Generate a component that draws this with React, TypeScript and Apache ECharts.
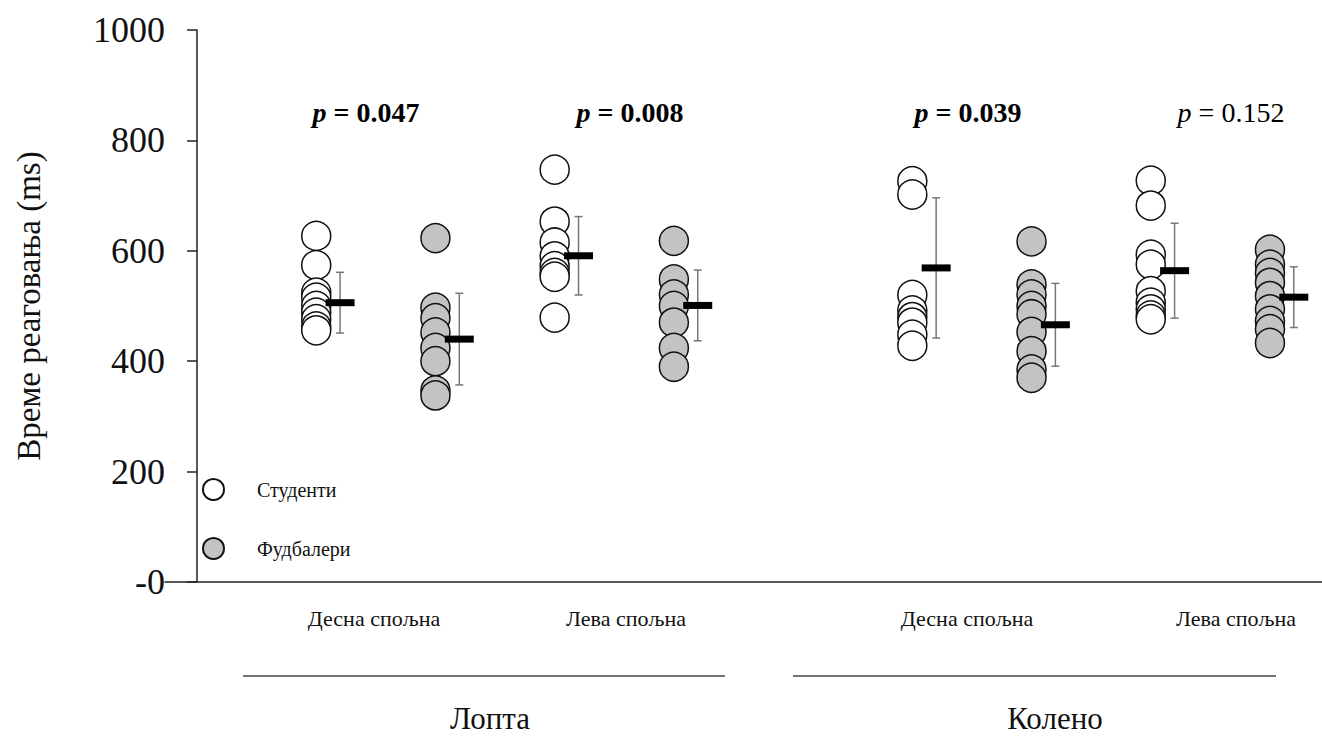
import React, { useEffect, useRef } from "react";
import * as echarts from "echarts";

// ---- data ----
const groupNames = ["Студенти", "Фудбалери"];
const conditionLabels = ["Десна спољна", "Лева спољна", "Десна спољна", "Лева спољна"];
const bodyParts = ["Лопта", "Колено"];
const pValues = ["0.047", "0.008", "0.039", "0.152"];
const pSignificant = [true, true, true, false];
const yTicks = [0, 200, 400, 600, 800, 1000];

// x slots: students / footballers for each condition
const studentSlots = [1, 3, 6, 8];
const footballerSlots = [2, 4, 7, 9];

const lDesnaStudenti = [627, 574, 524, 515, 500, 488, 476, 463, 456];
const lDesnaFudbaleri = [623, 497, 478, 452, 424, 400, 347, 338];
const lLevaStudenti = [747, 653, 615, 590, 572, 560, 553, 479];
const lLevaFudbaleri = [618, 548, 521, 500, 470, 424, 390];
const kDesnaStudenti = [726, 702, 520, 492, 480, 470, 448, 428];
const kDesnaFudbaleri = [617, 539, 521, 500, 485, 453, 418, 385, 370];
const kLevaStudenti = [727, 682, 593, 575, 527, 506, 494, 483, 476];
const kLevaFudbaleri = [602, 575, 560, 542, 518, 494, 473, 458, 433];

const studentGroups = [lDesnaStudenti, lLevaStudenti, kDesnaStudenti, kLevaStudenti];
const footballerGroups = [lDesnaFudbaleri, lLevaFudbaleri, kDesnaFudbaleri, kLevaFudbaleri];

// mean and SD per slot (order: slots 1,2,3,4,6,7,8,9)
const meanSlots = [1, 2, 3, 4, 6, 7, 8, 9];
const means = [506, 440, 591, 501, 569, 466, 564, 516];
const sds = [55, 83, 71, 64, 127, 75, 86, 55];

const FONT = '"Liberation Serif", "Times New Roman", serif';

export default function App() {
  const ref = useRef<HTMLDivElement>(null);

  useEffect(() => {
    if (!ref.current) return;
    const chart = echarts.init(ref.current, null, { renderer: "svg" });

    const studentData: number[][] = [];
    studentGroups.forEach((arr, i) => arr.forEach((v) => studentData.push([studentSlots[i], v])));
    const footData: number[][] = [];
    footballerGroups.forEach((arr, i) => arr.forEach((v) => footData.push([footballerSlots[i], v])));
    const meanData = meanSlots.map((s, i) => [s + 0.2, means[i], sds[i]]);

    const catX = [374, 626, 967, 1236];
    const pX = [366, 630, 968, 1231];
    const partX = [490, 1055];
    const lineSpans = [
      [243, 725],
      [793, 1276],
    ];

    const graphic: any[] = [];
    conditionLabels.forEach((t, i) =>
      graphic.push({
        type: "text",
        x: catX[i],
        y: 618,
        style: { text: t, fontSize: 22, fontFamily: FONT, fill: "#111", align: "center", verticalAlign: "middle" },
      })
    );
    bodyParts.forEach((t, i) =>
      graphic.push({
        type: "text",
        x: partX[i],
        y: 718,
        style: { text: t, fontSize: 31, fontFamily: FONT, fill: "#111", align: "center", verticalAlign: "middle" },
      })
    );
    lineSpans.forEach((s) =>
      graphic.push({
        type: "line",
        shape: { x1: s[0], y1: 676, x2: s[1], y2: 676 },
        style: { stroke: "#444", lineWidth: 1.5 },
      })
    );
    pValues.forEach((p, i) =>
      graphic.push({
        type: "text",
        x: pX[i],
        y: 112,
        style: {
          text: `{i|p}{r| = ${p}}`,
          align: "center",
          verticalAlign: "middle",
          rich: {
            i: {
              fontSize: 28,
              fontFamily: FONT,
              fontStyle: "italic",
              fontWeight: pSignificant[i] ? "bold" : "normal",
              fill: "#000",
            },
            r: {
              fontSize: 28,
              fontFamily: FONT,
              fontWeight: pSignificant[i] ? "bold" : "normal",
              fill: "#000",
            },
          },
        },
      })
    );

    chart.setOption({
      animation: false,
      backgroundColor: "#fff",
      grid: { left: 165, right: 0, top: 30, bottom: 156, containLabel: false, outerBoundsMode: "none" },
      xAxis: {
        type: "value",
        min: -0.2686,
        max: 9.4365,
        axisLine: { show: true, lineStyle: { color: "#222", width: 1.5 } },
        axisTick: { show: false },
        axisLabel: { show: false },
        splitLine: { show: false },
      },
      yAxis: {
        type: "value",
        min: 0,
        max: 1000,
        interval: 200,
        name: "Време реаговања (ms)",
        nameLocation: "middle",
        nameRotate: 90,
        nameGap: 120,
        nameTextStyle: { fontSize: 33, fontFamily: FONT, color: "#111" },
        axisLine: { show: true, onZero: true, lineStyle: { color: "#222", width: 1.5 } },
        axisTick: { show: true, inside: false, length: 10, lineStyle: { color: "#222", width: 1.5 } },
        axisLabel: {
          fontSize: 36,
          fontFamily: FONT,
          color: "#111",
          margin: 0,
          formatter: (v: number) => (v === yTicks[0] ? "-0" : String(v)),
        },
        splitLine: { show: false },
      },
      legend: {
        data: groupNames,
        orient: "vertical",
        left: 202,
        top: 478,
        padding: 0,
        itemWidth: 21,
        itemHeight: 21,
        itemGap: 36,
        icon: "circle",
        textStyle: { fontSize: 20, fontFamily: FONT, color: "#111", padding: [0, 0, 0, 28] },
      },
      series: [
        {
          name: groupNames[0],
          type: "scatter",
          data: studentData,
          symbol: "circle",
          symbolSize: 29,
          itemStyle: { color: "#ffffff", borderColor: "#111", borderWidth: 1.5, opacity: 1 },
          z: 2,
        },
        {
          name: groupNames[1],
          type: "scatter",
          data: footData,
          symbol: "circle",
          symbolSize: 29,
          itemStyle: { color: "#c3c3c3", borderColor: "#111", borderWidth: 1.5, opacity: 1 },
          z: 2,
        },
        {
          name: "mean",
          type: "custom",
          data: meanData,
          z: 5,
          renderItem: (params: any, api: any) => {
            const x = api.value(0);
            const m = api.value(1);
            const s = api.value(2);
            const c = api.coord([x, m]);
            const t = api.coord([x, m + s]);
            const b = api.coord([x, m - s]);
            const st = { stroke: "#777", lineWidth: 1.5 };
            return {
              type: "group",
              children: [
                { type: "line", shape: { x1: c[0], y1: t[1], x2: c[0], y2: b[1] }, style: st },
                { type: "line", shape: { x1: c[0] - 4, y1: t[1], x2: c[0] + 4, y2: t[1] }, style: st },
                { type: "line", shape: { x1: c[0] - 4, y1: b[1], x2: c[0] + 4, y2: b[1] }, style: st },
                { type: "rect", shape: { x: c[0] - 14.5, y: c[1] - 3.5, width: 29, height: 7 }, style: { fill: "#000" } },
              ],
            };
          },
        },
      ],
      graphic,
    });

    return () => chart.dispose();
  }, []);

  return (
    <div
      ref={ref}
      style={{ position: "fixed", left: 0, top: 0, width: 1322, height: 738, background: "#fff" }}
    />
  );
}
